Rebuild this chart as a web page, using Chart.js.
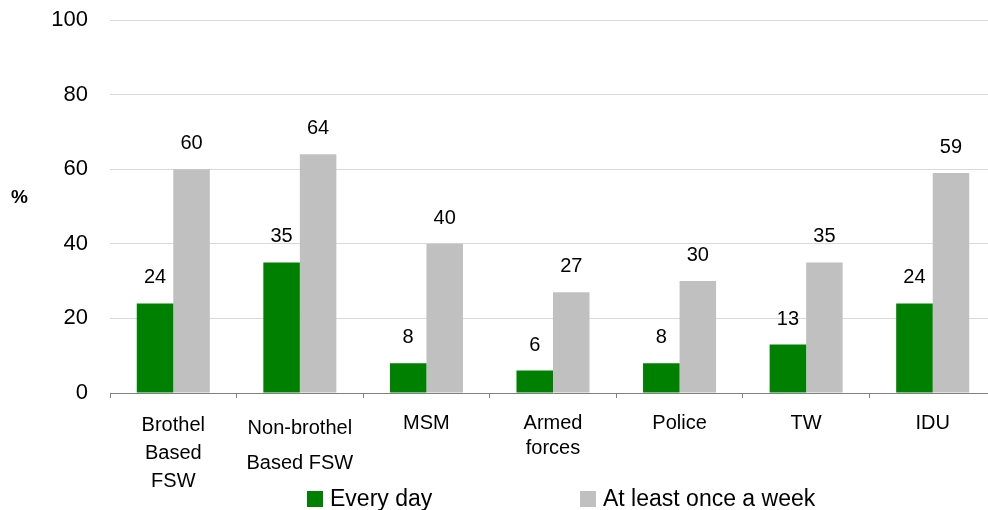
<!DOCTYPE html>
<html>
<head>
<meta charset="utf-8">
<script src="https://cdn.jsdelivr.net/npm/chart.js"></script>
<style>
  html, body { margin: 0; padding: 0; background: #fff; overflow: hidden; }
  #wrap { position: relative; width: 1000px; height: 510px; }
  #legend { position: absolute; left: 0; top: 0; width: 100%; height: 100%; pointer-events: none;
            font-family: "Liberation Sans", Arial, sans-serif; font-size: 23px; color: #000; }
  .lg-item { position: absolute; top: 485px; display: flex; align-items: center; }
  .lg-box { width: 16px; height: 16px; margin-right: 7px; }
</style>
</head>
<body>
<div id="wrap">
  <canvas id="chart"></canvas>
  <div id="legend"></div>
</div>
<script>
// נתוני הגרף
const categories = [
    ['Brothel', 'Based', 'FSW'],
    ['Non-brothel', 'Based FSW'],
    ['MSM'],
    ['Armed', 'forces'],
    ['Police'],
    ['TW'],
    ['IDU']
];
const seriesNames = ['Every day', 'At least once a week'];
const everyDay = [24, 35, 8, 6, 8, 13, 24];
const onceAWeek = [60, 64, 40, 27, 30, 35, 59];
const yTicks = [0, 20, 40, 60, 80, 100];
const seriesColors = ['#008000', '#C0C0C0'];

// מרווח שורות שונה לכל תווית, כמו במקור
const labelLineHeights = [1.4, 1.75, 1.25, 1.25, 1.25, 1.25, 1.25];

const FONT = '"Liberation Sans", Arial, sans-serif';

// תוויות ערכים מעל העמודות
const valueLabels = {
    id: 'valueLabels',
    afterDatasetsDraw(chart) {
        const ctx = chart.ctx;
        ctx.save();
        ctx.font = '20px ' + FONT;
        ctx.fillStyle = '#000';
        ctx.textAlign = 'center';
        ctx.textBaseline = 'alphabetic';
        chart.data.datasets.forEach((ds, i) => {
            chart.getDatasetMeta(i).data.forEach((bar, j) => {
                ctx.fillText(String(ds.data[j]), bar.x, bar.y - 20);
            });
        });
        // סימן האחוז ליד ציר ה-Y
        ctx.font = 'bold 19px ' + FONT;
        ctx.textAlign = 'left';
        ctx.textBaseline = 'middle';
        ctx.fillText('%', 11, 198);
        ctx.restore();
    }
};

const ctx = document.getElementById('chart').getContext('2d');
const chart = new Chart(ctx, {
    type: 'bar',
    data: {
        labels: categories,
        datasets: [
            { label: seriesNames[0], data: everyDay, backgroundColor: seriesColors[0] },
            { label: seriesNames[1], data: onceAWeek, backgroundColor: seriesColors[1] }
        ]
    },
    options: {
        responsive: true,
        maintainAspectRatio: false,
        animation: false,
        devicePixelRatio: 1,
        layout: { padding: { top: 20, right: 4, left: 0, bottom: 0 } },
        datasets: { bar: { categoryPercentage: 0.577, barPercentage: 1.0 } },
        plugins: {
            legend: { display: false },
            tooltip: { enabled: false }
        },
        scales: {
            x: {
                grid: {
                    offset: true,
                    drawOnChartArea: false,
                    drawTicks: true,
                    tickLength: 5,
                    color: '#808080'
                },
                border: { display: true, color: '#808080', width: 1 },
                ticks: {
                    color: '#000',
                    padding: 13,
                    maxRotation: 0,
                    autoSkip: false,
                    font: (c) => ({ family: FONT, size: 20, lineHeight: labelLineHeights[c.index] || 1.25 })
                },
                afterFit(scale) {
                    scale.height = 117;
                    scale.paddingLeft = 0;
                    scale.paddingRight = 0;
                }
            },
            y: {
                min: 0,
                max: 100,
                afterBuildTicks(scale) { scale.ticks = yTicks.map(v => ({ value: v })); },
                grid: { color: '#D9D9D9', lineWidth: 1, drawTicks: false },
                border: { display: false },
                ticks: {
                    color: '#000',
                    padding: 22,
                    font: { family: FONT, size: 22 }
                },
                afterFit(scale) {
                    scale.width = 110;
                    scale.paddingTop = 0;
                    scale.paddingBottom = 0;
                }
            }
        }
    },
    plugins: [valueLabels]
});

// מקרא ב-HTML עם מרווחים כמו במקור
const legendPos = [307, 580];
const legendEl = document.getElementById('legend');
seriesNames.forEach((name, i) => {
    legendEl.insertAdjacentHTML('beforeend',
        `<div class="lg-item" style="left:${legendPos[i]}px">
            <div class="lg-box" style="background:${seriesColors[i]}"></div><span>${name}</span>
         </div>`);
});
</script>
</body>
</html>
